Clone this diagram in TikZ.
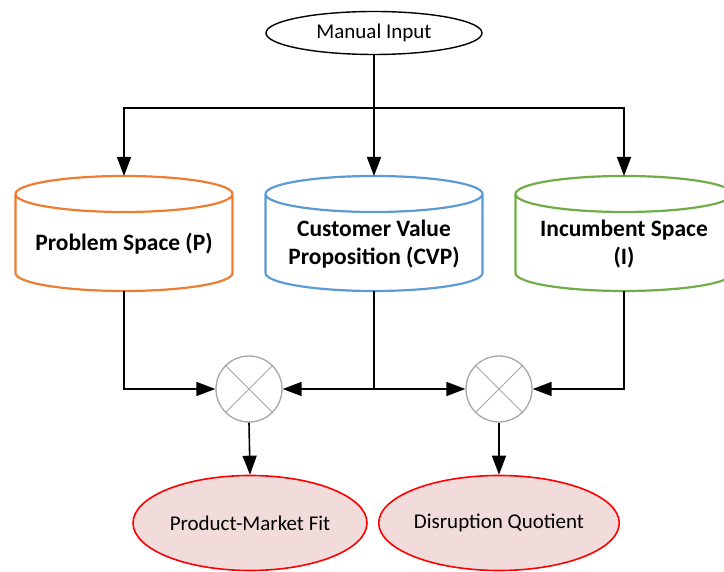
\documentclass[tikz,border=0pt]{standalone}
\usepackage{fontspec}
\setmainfont{Carlito}
\usetikzlibrary{shapes.geometric,arrows.meta}

\definecolor{psorange}{HTML}{ED7D31}
\definecolor{cvpblue}{HTML}{5B9BD5}
\definecolor{isgreen}{HTML}{70AD47}
\definecolor{outfill}{HTML}{F2DCDB}
\definecolor{mixgrey}{HTML}{A6A6A6}

\begin{document}
\begin{tikzpicture}[
    x=1pt, y=1pt,
    font=\fontsize{21}{28}\selectfont,
    input/.style={ellipse, draw=black, line width=1.4pt, minimum width=216pt, minimum height=43pt, inner sep=0pt},
    store/.style={rectangle, draw=none, minimum width=217pt, minimum height=115pt, inner sep=0pt, outer sep=0pt},
    storetext/.style={font=\fontsize{23.5}{28}\selectfont\bfseries, align=center},
    mixer/.style={circle, draw=mixgrey, line width=1.3pt, minimum size=66pt, inner sep=0pt},
    result/.style={ellipse, draw=red, fill=outfill, line width=1.6pt, minimum width=234pt, minimum height=95pt, inner sep=0pt},
    arr/.style={line width=1.6pt, -{Triangle[length=19pt, width=14pt]}}
]
\useasboundingbox (0,0) rectangle (724,572);

% Top input
\node[input] (mi) at (374,539) {Manual Input};
\coordinate (bus) at (374,464);

% Three stores
\node[store] (ps) at (124,338.5) {};
\node[store] (cvp) at (374,338.5) {};
\node[store] (is) at (624,338.5) {};

\foreach \n/\c in {ps/psorange, cvp/cvpblue, is/isgreen} {
  \draw[\c, line width=2.2pt]
    ([yshift=-18pt]\n.north west) -- ([yshift=18pt]\n.south west)
    arc[start angle=180, end angle=360, x radius=108.5pt, y radius=18pt]
    -- ([yshift=-18pt]\n.north east)
    arc[start angle=0, end angle=180, x radius=108.5pt, y radius=18pt]
    arc[start angle=180, end angle=360, x radius=108.5pt, y radius=18pt];
}

\node[storetext] (ps-text) at (124,328) {Problem Space (P)};
\node[storetext] (cvp-text) at (374,328) {Customer Value\\Proposition (CVP)};
\node[storetext] (is-text) at (624,328) {Incumbent Space\\(I)};

% Mixers
\node[mixer] (m1) at (249,183) {};
\node[mixer] (m2) at (499,183) {};
\foreach \m in {m1, m2} {
  \draw[mixgrey, line width=1pt] (\m.north west) -- (\m.south east);
  \draw[mixgrey, line width=1pt] (\m.north east) -- (\m.south west);
}

% Results
\node[result] (pmf) at (250,49) {Product-Market Fit};
\node[result] (dq) at (499,49) {Disruption Quotient};

% Connectors
\draw[line width=1.6pt] (mi.south) -- (bus);
\draw[arr] (bus) -- (cvp.north);
\draw[arr] (bus) -| (ps.north);
\draw[arr] (bus) -| (is.north);

\draw[arr] (ps.south) |- (m1.west);
\draw[arr] (cvp.south) |- (m1.east);
\draw[arr] (cvp.south) |- (m2.west);
\draw[arr] (is.south) |- (m2.east);

\draw[arr] (m1.south) -- (pmf.north);
\draw[arr] (m2.south) -- (dq.north);

\end{tikzpicture}
\end{document}
